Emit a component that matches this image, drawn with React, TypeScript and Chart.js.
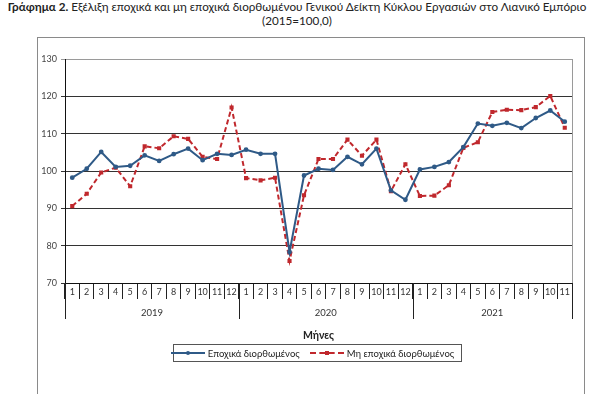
import React, { useEffect, useRef } from "react";
import { Chart, registerables } from "chart.js";
Chart.register(...registerables);

const titleBold = "Γράφημα 2.";
const titleRest = " Εξέλιξη εποχικά και μη εποχικά διορθωμένου Γενικού Δείκτη Κύκλου Εργασιών στο Λιανικό Εμπόριο";
const subtitle = "(2015=100,0)";
const axisTitle = "Μήνες";

const months = [
  "1","2","3","4","5","6","7","8","9","10","11","12",
  "1","2","3","4","5","6","7","8","9","10","11","12",
  "1","2","3","4","5","6","7","8","9","10","11",
];
const years = ["2019", "2020", "2021"];
const yearMonthCounts = [12, 12, 11];

const seriesNames = ["Εποχικά διορθωμένος", "Μη εποχικά διορθωμένος"];
const seasonallyAdjusted = [
  98.2, 100.6, 105.1, 101.1, 101.4, 104.2, 102.7, 104.5, 106.0, 102.9, 104.6, 104.3,
  105.7, 104.6, 104.6, 78.3, 98.8, 100.6, 100.3, 103.8, 101.8, 106.0, 94.8, 92.3,
  100.4, 101.1, 102.4, 106.4, 112.7, 112.1, 112.9, 111.5, 114.2, 116.2, 113.2,
];
const nonSeasonallyAdjusted = [
  90.6, 93.9, 99.6, 100.9, 95.9, 106.6, 106.1, 109.3, 108.6, 103.8, 103.2, 117.0,
  98.1, 97.5, 98.2, 75.9, 93.5, 103.2, 103.2, 108.4, 104.1, 108.4, 94.6, 101.8,
  93.3, 93.4, 96.2, 106.2, 107.7, 115.8, 116.4, 116.3, 117.1, 120.1, 111.6,
];
const yMin = 70;
const yMax = 130;
const yStep = 10;

const blue = "#2F5A87";
const red = "#C0282D";
const FONT = "Lato, 'Open Sans', sans-serif";

const yearRowPlugin = {
  id: "yearRow",
  afterDraw(chart: any) {
    const x = chart.scales.x;
    const ctx = chart.ctx;
    const area = chart.chartArea;
    const step = x.getPixelForTick(1) - x.getPixelForTick(0);
    ctx.save();
    ctx.strokeStyle = "#9a9a9a";
    ctx.lineWidth = 1;
    ctx.beginPath();
    ctx.moveTo(Math.round(area.right) + 0.5, area.top);
    ctx.lineTo(Math.round(area.right) + 0.5, area.bottom);
    ctx.stroke();
    ctx.strokeStyle = "#222";
    ctx.fillStyle = "#333";
    ctx.font = `9.5px ${FONT}`;
    ctx.textAlign = "center";
    ctx.textBaseline = "middle";
    let start = 0;
    const bounds: number[] = [];
    for (let i = 0; i < years.length; i++) {
      const l = x.getPixelForTick(start) - step / 2;
      const end = start + yearMonthCounts[i] - 1;
      const r = x.getPixelForTick(end) + step / 2;
      bounds.push(l);
      if (i === years.length - 1) bounds.push(r);
      ctx.fillText(years[i], (l + r) / 2, area.bottom + 30);
      start += yearMonthCounts[i];
    }
    ctx.beginPath();
    bounds.forEach((b) => {
      const px = Math.round(b) + 0.5;
      ctx.moveTo(px, area.bottom);
      ctx.lineTo(px, area.bottom + 36);
    });
    ctx.stroke();
    ctx.fillStyle = "#222";
    ctx.font = `bold 10.5px ${FONT}`;
    ctx.fillText(axisTitle, (area.left + area.right) / 2, area.bottom + 53);
    ctx.restore();
  },
};

export default function App() {
  const ref = useRef<HTMLCanvasElement>(null);
  useEffect(() => {
    document.body.style.margin = "0";
    const chart = new Chart(ref.current!, {
      type: "line",
      data: {
        labels: months,
        datasets: [
          {
            label: seriesNames[0],
            data: seasonallyAdjusted,
            borderColor: blue,
            backgroundColor: blue,
            borderWidth: 2,
            pointStyle: "circle",
            pointRadius: 1.4,
            tension: 0,
          },
          {
            label: seriesNames[1],
            data: nonSeasonallyAdjusted,
            borderColor: red,
            backgroundColor: red,
            borderWidth: 2,
            borderDash: [5, 3],
            pointStyle: "rect",
            pointRadius: 1.5,
            tension: 0,
          },
        ],
      },
      options: {
        animation: false,
        responsive: false,
        maintainAspectRatio: false,
        layout: { padding: { left: 0, top: 21, right: 12, bottom: 0 } },
        plugins: { legend: { display: false }, tooltip: { enabled: false }, title: { display: false } },
        scales: {
          x: {
            type: "category",
            offset: true,
            grid: {
              offset: true,
              drawOnChartArea: false,
              tickLength: 16,
              color: "#222",
            },
            border: { display: true, color: "#111" },
            ticks: {
              autoSkip: false,
              maxRotation: 0,
              padding: -12,
              color: "#333",
              font: { size: 9, family: FONT },
            },
            afterFit(scale: any) {
              scale.height = 108;
            },
          },
          y: {
            min: yMin,
            max: yMax,
            ticks: {
              stepSize: yStep,
              color: "#444",
              padding: 4,
              font: { size: 9, family: FONT },
            },
            grid: {
              tickLength: 4,
              color: (c: any) => (c.tick && c.tick.value === yMax ? "#9a9a9a" : "#333"),
            },
            border: { display: true, color: "#111" },
            afterFit(scale: any) {
              scale.width = 27;
            },
          },
        },
      },
      plugins: [yearRowPlugin],
    });
    return () => chart.destroy();
  }, []);

  const legendItem = (name: string, color: string, dashed: boolean, square: boolean) => (
    <div style={{ display: "flex", alignItems: "center", marginRight: 10 }}>
      <div style={{ position: "relative", width: 34, height: 8, marginRight: 3 }}>
        <div
          style={{
            position: "absolute",
            left: 0,
            right: 0,
            top: 3,
            borderTop: `2px ${dashed ? "dashed" : "solid"} ${color}`,
          }}
        />
        <div
          style={{
            position: "absolute",
            left: 15,
            top: 2,
            width: 4,
            height: 4,
            background: color,
            borderRadius: square ? 0 : 2,
          }}
        />
      </div>
      <span>{name}</span>
    </div>
  );

  return (
    <div style={{ position: "absolute", left: 0, top: 0, width: 600, height: 394, background: "#fff", fontFamily: FONT, overflow: "hidden" }}>
      <div style={{ position: "absolute", left: 0, top: -1, width: 594, textAlign: "center", fontSize: 11.7, lineHeight: "14px", color: "#222", whiteSpace: "nowrap" }}>
        <div>
          <b>{titleBold}</b>
          {titleRest}
        </div>
        <div>{subtitle}</div>
      </div>
      <div style={{ position: "absolute", left: 37, top: 37, width: 546, height: 360, border: "1px solid #8a8a8a" }}>
        <canvas ref={ref} width={546} height={353} style={{ position: "absolute", left: 0, top: 0, width: 546, height: 353 }} />
        <div
          style={{
            position: "absolute",
            left: 135,
            top: 306,
            width: 287,
            height: 16,
            border: "1px solid #555",
            display: "flex",
            alignItems: "center",
            justifyContent: "center",
            fontSize: 9.5,
            color: "#222",
            whiteSpace: "nowrap",
          }}
        >
          {legendItem(seriesNames[0], blue, false, false)}
          {legendItem(seriesNames[1], red, true, true)}
        </div>
      </div>
    </div>
  );
}
